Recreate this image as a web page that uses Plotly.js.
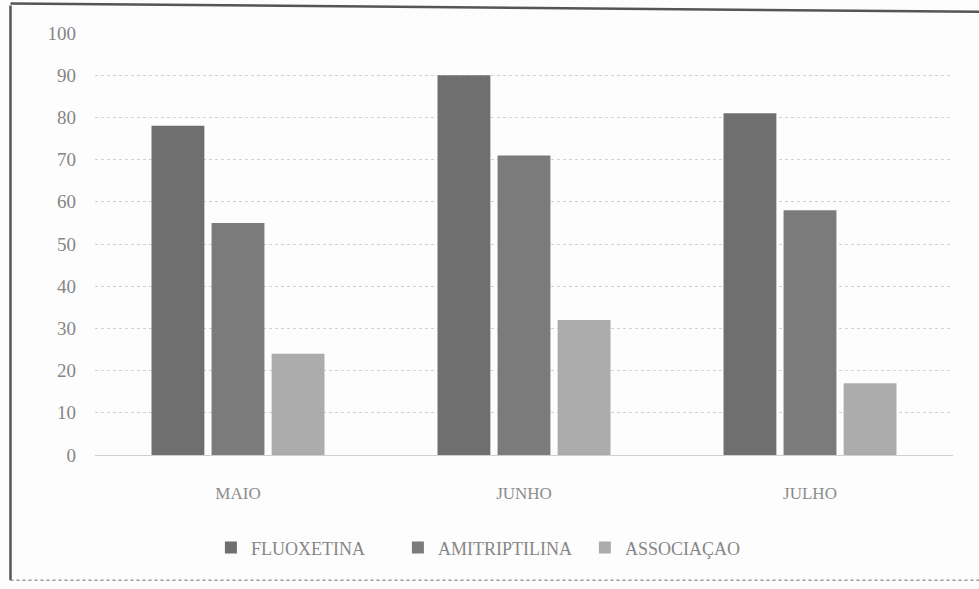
<!DOCTYPE html>
<html>
<head>
<meta charset="utf-8">
<script src="https://cdn.plot.ly/plotly-3.0.1.min.js"></script>
<style>html,body{margin:0;padding:0;background:#fdfdfd;}#chart{width:979px;height:589px;}</style>
</head>
<body>
<div id="chart"></div>
<script>
const months = ["MAIO", "JUNHO", "JULHO"];
const seriesNames = ["FLUOXETINA", "AMITRIPTILINA", "ASSOCIAÇAO"];
const fluoxetina = [78, 90, 81];
const amitriptilina = [55, 71, 58];
const associacao = [24, 32, 17];
const yTicks = [0, 10, 20, 30, 40, 50, 60, 70, 80, 90, 100];

const colors = ["#6f6f6f", "#7b7b7b", "#acacac"];
const values = [fluoxetina, amitriptilina, associacao];

const traces = values.map((v, i) => ({
  type: "bar",
  name: seriesNames[i],
  x: months,
  y: v,
  marker: {color: colors[i], line: {width: 0}},
  hoverinfo: "none"
}));

const layout = {
  width: 979,
  height: 589,
  margin: {l: 95, r: 26, t: 33, b: 134},
  paper_bgcolor: "#fdfdfd",
  plot_bgcolor: "#fdfdfd",
  barmode: "group",
  bargap: 0.37,
  bargroupgap: 0.12,
  showlegend: true,
  legend: {
    orientation: "h",
    x: 0.462, xanchor: "center",
    y: -0.22, yanchor: "middle",
    entrywidth: 142, entrywidthmode: "pixels",
    font: {family: "Liberation Serif", size: 18, color: "#868686"},
    itemclick: false
  },
  xaxis: {
    type: "category",
    showgrid: false,
    showline: false,
    zeroline: false,
    ticks: "",
    ticklabelstandoff: 26,
    tickfont: {family: "Liberation Serif", size: 17, color: "#8c8c8c"}
  },
  yaxis: {
    range: [0, 100],
    tickvals: yTicks,
    ticktext: yTicks.map(String),
    showgrid: true,
    gridcolor: "#d2d2d2",
    gridwidth: 1,
    griddash: "dot",
    zeroline: true,
    zerolinecolor: "#cfcfcf",
    zerolinewidth: 1,
    showline: false,
    ticks: "",
    ticklabelstandoff: 18,
    tickfont: {family: "Liberation Serif", size: 19, color: "#858585"}
  },
  shapes: [
    {type: "line", xref: "paper", yref: "paper", x0: -0.0985, x1: -0.0985, y0: 1.065, y1: -0.297, line: {color: "#555", width: 2.5}},
    {type: "line", xref: "paper", yref: "paper", x0: -0.0985, x1: 1.04, y0: 1.07, y1: 1.05, line: {color: "#555", width: 2.5}},
    {type: "line", xref: "paper", yref: "paper", x0: -0.0985, x1: 1.04, y0: -0.297, y1: -0.297, line: {color: "#9a9a9a", width: 1.5, dash: "dot"}}
  ]
};

Plotly.newPlot("chart", traces, layout, {displayModeBar: false, staticPlot: true});
</script>
</body>
</html>
